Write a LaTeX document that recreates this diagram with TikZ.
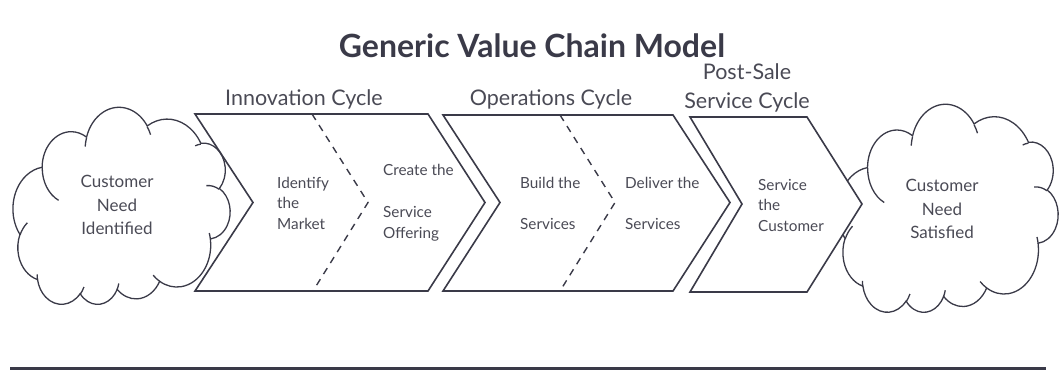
\documentclass[tikz,border=0pt]{standalone}
\usepackage{fontspec}
\setmainfont{Lato}
\definecolor{ink}{HTML}{3A3A48}
\definecolor{txt}{HTML}{4A4A55}
\begin{document}
\begin{tikzpicture}[x=1pt,y=-1pt,
  chev/.style={draw=ink,line width=1.6pt,line join=miter},
  divider/.style={draw=ink,line width=1.4pt,dash pattern=on 7pt off 6pt},
  cloudline/.style={draw=ink,line width=1.3pt},
  oo/.style n args={4}{x radius=#1,y radius=#2,
     start angle={atan2(#1*sin(#3),#2*cos(#3))},
     delta angle={mod(atan2(#1*sin(#3+#4),#2*cos(#3+#4))-atan2(#1*sin(#3),#2*cos(#3))+720,360)}},
  cloudtext/.style={align=center,text=txt,font=\fontsize{17}{23.5}\selectfont,inner sep=0pt},
  steplabel/.style={anchor=west,align=left,text=txt,font=\fontsize{15.3}{20.5}\selectfont,inner sep=0pt},
  cyclelabel/.style={align=center,text=txt,font=\fontsize{21.5}{29}\selectfont,inner sep=0pt},
]
\useasboundingbox (0,0) rectangle (1064,373);
\newcommand\drawcloud{%
  \draw[cloudline] (9.028,33.264)
    arc[oo={15.632}{21.273}{-190.487}{123.781}]
    arc[oo={12.345}{16.822}{-144.102}{89.945}]
    arc[oo={10.104}{13.762}{-145.808}{99.723}]
    arc[oo={11.243}{15.266}{-130.986}{117.242}]
    arc[oo={12.345}{16.836}{-78.709}{109.027}]
    arc[oo={15.683}{21.343}{-46.267}{130.269}]
    arc[oo={13.391}{18.211}{0.625}{114.033}]
    arc[oo={15.630}{21.331}{22.452}{115.173}]
    arc[oo={17.870}{24.405}{66.243}{75.711}]
    arc[oo={10.093}{13.699}{-274.942}{146.736}]
    arc[oo={10.058}{13.762}{-246.829}{152.519}]
    -- cycle;
  \draw[cloudline] (10.863,60.595) arc[oo={10.058}{13.762}{86.742}{26.430}];
  \draw[cloudline] (16.037,80.785) arc[oo={10.093}{13.699}{73.610}{11.447}];
  \draw[cloudline] (38.144,90.486) arc[oo={15.630}{21.331}{137.624}{14.081}];
  \draw[cloudline] (66.729,80.442) arc[oo={15.630}{21.331}{6.453}{15.998}];
  \draw[cloudline] (79.002,53.134) arc[oo={13.391}{18.211}{-70.292}{70.917}];
  \draw[cloudline] (96.755,35.542) arc[oo={12.345}{16.836}{30.318}{27.752}];
  \draw[cloudline] (88.713,12.560) arc[oo={11.243}{15.266}{-13.744}{14.859}];
  \draw[cloudline] (67.310,9.148) arc[oo={11.243}{15.266}{-149.181}{18.195}];
  \draw[cloudline] (51.252,10.926) arc[oo={10.104}{13.762}{-163.494}{17.686}];
  \draw[cloudline] (32.407,12.019) arc[oo={15.632}{21.273}{-66.707}{12.319}];
  \draw[cloudline] (9.553,36.549) arc[oo={15.632}{21.273}{157.654}{11.858}];
}
\node[font=\bfseries\fontsize{32}{36}\selectfont,text=ink] (title) at (532,46) {Generic Value Chain Model};

% clouds (shape turned half a turn)
\begin{scope}[shift={(230,305)},xscale=-2.17,yscale=-1.97]
  \drawcloud
\end{scope}
\begin{scope}[shift={(1058,313)},xscale=-2.20,yscale=-2.08]
  \drawcloud
\end{scope}
\node[cloudtext] (cneed) at (117,205) {Customer\\Need\\Identified};
\node[cloudtext] (csat) at (942,209) {Customer\\Need\\Satisfied};

% chevrons
\draw[chev] (195,114) -- (428,114) -- (485,202.5) -- (428,291) -- (195,291) -- (253,202.5) -- cycle;
\draw[chev] (443,115) -- (673,115) -- (730,202.5) -- (673,291) -- (443,291) -- (500,202.5) -- cycle;
\draw[chev,fill=white] (690,117) -- (807,117) -- (862,204) -- (807,292) -- (690,292) -- (742,204) -- cycle;

\draw[divider] (312,114) -- (368,202.5) -- (313,291);
\draw[divider] (560,115) -- (615,202.5) -- (560,291);

\node[cyclelabel] (inno) at (304,99) {Innovation Cycle};
\node[cyclelabel] (ops) at (551,99) {Operations Cycle};
\node[cyclelabel] (post) at (747,88) {Post-Sale\\Service Cycle};

\node[steplabel] (ident) at (277,203) {Identify\\the\\Market};
\node[steplabel] (create) at (383,170) {Create the};
\node[steplabel] (offer) at (383,224) {Service\\Offering};
\node[steplabel] (build) at (520,183) {Build the};
\node[steplabel] (bserv) at (520,224) {Services};
\node[steplabel] (deliver) at (625,183) {Deliver the};
\node[steplabel] (dserv) at (625,224) {Services};
\node[steplabel] (servc) at (758,205) {Service\\the\\Customer};

\draw[ink,line width=3pt] (10,368) -- (1046,368);
\end{tikzpicture}
\end{document}
